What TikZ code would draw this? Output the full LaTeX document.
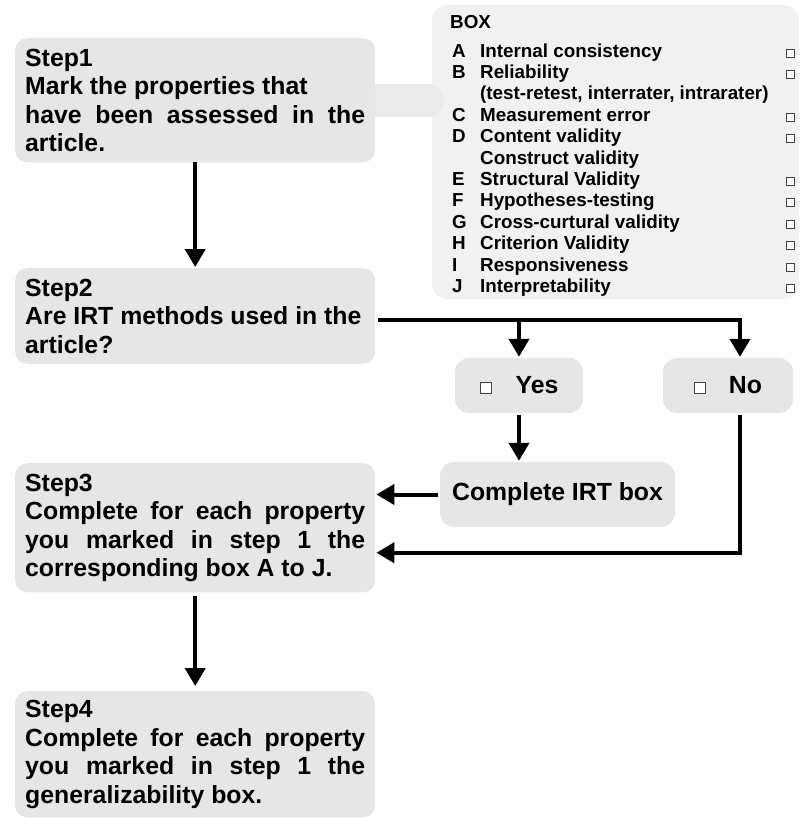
\documentclass[tikz,border=0pt]{standalone}
\usepackage{fontspec}
\setmainfont{Liberation Sans}
\usepackage{array}
\usetikzlibrary{arrows.meta}
\pgfdeclarelayer{bg}
\pgfsetlayers{bg,main}
\definecolor{stepgrey}{HTML}{E6E6E6}
\definecolor{boxgrey}{HTML}{F1F1F1}
\definecolor{bandgrey}{HTML}{EAEAEA}
\definecolor{sqline}{HTML}{444444}
\newcommand{\ticksq}[1]{\raisebox{0.5pt}{\setlength{\fboxsep}{0pt}\setlength{\fboxrule}{1pt}\fcolorbox{sqline}{white}{\rule{0pt}{#1}\hspace{#1}}}}
\newcommand{\stepfont}{\bfseries\fontsize{24.8}{28.5}\selectfont\hyphenpenalty=10000 \tolerance=10000 }
\newcommand{\boxfont}{\bfseries\fontsize{18.8}{21.4}\selectfont}

\begin{document}
\begin{tikzpicture}[x=1pt, y=-1pt,
    stepnode/.style={fill=stepgrey, rounded corners=12pt, anchor=north west,
      text width=340pt, inner xsep=10pt, inner ysep=10.5pt, align=justify, font=\stepfont},
    choice/.style={fill=stepgrey, rounded corners=14pt, minimum height=55pt, font=\stepfont},
    arr/.style={line width=4pt, shorten <=2pt, shorten >=1pt, -{Triangle[width=20pt, length=18pt]}},
    band/.style={line width=33pt, draw=bandgrey, line cap=round}]
    \useasboundingbox (0,0) rectangle (801,818);

    \node[stepnode] (step1) at (15,38) {Step1\\Mark the properties that\\have been assessed in the article.};
    \node[stepnode] (step2) at (15,268) {Step2\\Are IRT methods used in the\\article?};
    \node[stepnode] (step3) at (15,463) {Step3\\Complete for each property you marked in step 1 the corresponding box A to J.};
    \node[stepnode, inner ysep=9pt, anchor=south west] (step4) at (15,817.5) {Step4\\Complete for each property you marked in step 1 the generalizability box.};

    \node[choice, minimum width=128pt] (yes) at (519,385.5) {\ticksq{10pt}\hspace{24pt}Yes};
    \node[choice, minimum width=130pt] (no) at (728,385.5) {\ticksq{10pt}\hspace{23pt}No};
    \node[choice, minimum width=235pt, minimum height=65pt] (irt) at (557.5,494.5) {Complete IRT box};

    \begin{pgfonlayer}{bg}
      \node[fill=boxgrey, rounded corners=15pt, anchor=north west, inner sep=0pt, font=\boxfont] (props) at (432,5) {%
        \begin{tabular}{@{\hspace{20pt}}p{28pt}@{}p{306pt}@{}l@{\hspace{4pt}}}
          \noalign{\vskip 8pt}
          \multicolumn{3}{@{\hspace{18pt}}l@{}}{BOX}\\[7.6pt]
          A & Internal consistency & \ticksq{7pt}\\
          B & Reliability & \ticksq{7pt}\\
            & (test-retest, interrater, intrarater) & \\
          C & Measurement error & \ticksq{7pt}\\
          D & Content validity & \ticksq{7pt}\\
            & Construct validity & \\
          E & Structural Validity & \ticksq{7pt}\\
          F & Hypotheses-testing & \ticksq{7pt}\\
          G & Cross-curtural validity & \ticksq{7pt}\\
          H & Criterion Validity & \ticksq{7pt}\\
          I & Responsiveness & \ticksq{7pt}\\
          J & Interpretability & \ticksq{7pt}
        \end{tabular}};
      \draw[band] (step1.east) -- ([xshift=-4pt]props.west |- step1.east);
    \end{pgfonlayer}

    \coordinate (fork) at (378,320);
    \draw[arr, shorten <=0pt] (step1.south) -- (step2.north);
    \draw[arr, shorten <=0pt] (fork) -| ([xshift=12pt]no.north);
    \draw[arr, shorten <=0pt] (fork -| yes.north) -- (yes.north);
    \draw[arr] (yes.south) -- (yes.south |- irt.north);
    \draw[arr] (irt.west) -- (irt.west -| step3.east);
    \draw[arr] ([xshift=12pt]no.south) |- ([yshift=-25pt]step3.east);
    \draw[arr, shorten <=4pt, shorten >=5pt] (step3.south) -- (step4.north);
\end{tikzpicture}
\end{document}
